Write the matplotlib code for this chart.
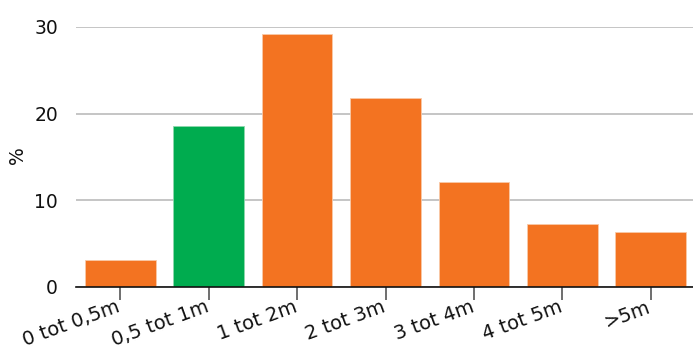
import matplotlib
matplotlib.use("Agg")
import matplotlib.pyplot as plt
from matplotlib.transforms import ScaledTranslation

categories = ["0 tot 0,5m", "0,5 tot 1m", "1 tot 2m", "2 tot 3m", "3 tot 4m", "4 tot 5m", ">5m"]
values = [3.15, 18.55, 29.2, 21.8, 12.15, 7.3, 6.4]
highlight = "0,5 tot 1m"
y_ticks = [0, 10, 20, 30]

ORANGE = "#F37321"
GREEN = "#00AC4F"
FS = 13.5
FS_X = 14

plt.rcParams["font.family"] = ["DejaVu Sans"]

W, H = 693, 347
fig = plt.figure(figsize=(W / 100, H / 100), dpi=100)
left, right, top, bottom = 76, 695, 27, 287
ax = fig.add_axes([left / W, 1 - bottom / H, (right - left) / W, (bottom - top) / H])

colors = [GREEN if c == highlight else ORANGE for c in categories]
edges = ["#8ED8AE" if c == GREEN else "#F8C9A8" for c in colors]
x = range(len(categories))
ax.bar(x, values, width=0.8, color=colors, edgecolor=edges, linewidth=0.6, zorder=3)

ax.set_xlim(-0.5, 6.5)
ax.set_ylim(0, 30)
ax.set_yticks(y_ticks)
ax.set_yticklabels([str(t) for t in y_ticks], fontsize=FS, color="#111111")
ax.tick_params(axis="y", length=0, pad=13)
ax.yaxis.grid(True, color="#BBBBBB", linewidth=1.2, zorder=0)
ax.set_axisbelow(True)

ax.set_xticks(list(x))
ax.set_xticklabels(categories, rotation=20, ha="right", va="baseline",
                   rotation_mode="anchor", fontsize=FS_X, color="#111111")
ax.tick_params(axis="x", length=9, width=1.2, color="#555555", pad=0)
shift = ScaledTranslation(1 / 100, -12 / 100, fig.dpi_scale_trans)
for lbl in ax.xaxis.get_majorticklabels():
    lbl.set_transform(lbl.get_transform() + shift)

for s in ["top", "right", "left"]:
    ax.spines[s].set_visible(False)
ax.spines["bottom"].set_color("#111111")
ax.spines["bottom"].set_linewidth(1.2)
ax.spines["bottom"].set_zorder(4)

fig.text(18 / W, 1 - 155 / H, "%", rotation=90, ha="center", va="center",
         fontsize=FS, color="#111111")

fig.savefig("out.png", dpi=100)
